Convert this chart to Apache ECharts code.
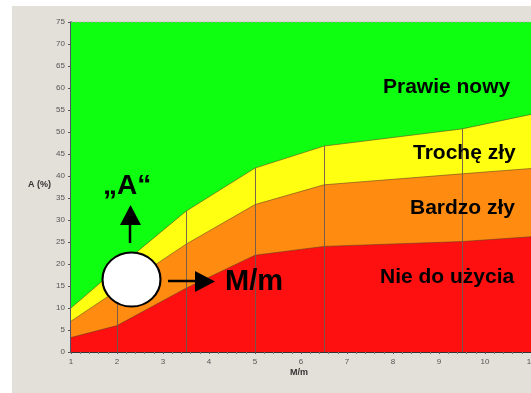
<!DOCTYPE html>
<html>
<head>
<meta charset="utf-8">
<script src="https://cdn.jsdelivr.net/npm/echarts@6/dist/echarts.min.js"></script>
<style>
html,body{margin:0;padding:0;background:#fff;}
#wrap{position:relative;width:531px;height:393px;}
#bg{position:absolute;left:12px;top:6px;right:0;bottom:0;background:#E3DFD9;}
#c{position:absolute;left:0;top:0;width:531px;height:393px;}
</style>
</head>
<body>
<div id="wrap"><div id="bg"></div><div id="c"></div></div>
<script>
// Breakpoints on the M/m axis
const xs = [1, 2, 3.5, 5, 6.5, 9.5, 11];
// Upper boundaries of each condition band, A (%)
const greenTop  = [75, 75, 75, 75, 75, 75, 75];
const yellowTop = [10, 19, 32, 41.8, 46.8, 50.7, 54];
const orangeTop = [7, 14, 24.5, 33.5, 38, 40.5, 41.7];
const redTop    = [3.3, 6, 14.5, 22, 24, 25.1, 26.2];
const bandNames = ['Prawie nowy', 'Trochę zły', 'Bardzo zły', 'Nie do użycia'];
const xTicks = [1,2,3,4,5,6,7,8,9,10,11];
const yTicks = [0,5,10,15,20,25,30,35,40,45,50,55,60,65,70,75];

const pair = arr => xs.map((x, i) => [x, arr[i]]);
const vLines = xs.slice(1, 6).map((x, i) => [
  { coord: [x, 0] },
  { coord: [x, yellowTop[i + 1]] }
]);

const boundary = { color: 'rgba(90,60,40,0.55)', width: 1 };
function band(name, arr, color, extra) {
  return Object.assign({
    type: 'line', name: name, data: pair(arr), symbol: 'none', silent: true,
    lineStyle: boundary, areaStyle: { color: color, opacity: 1, origin: 'start' },
    animation: false
  }, extra || {});
}

const Z = 100;
const chart = echarts.init(document.getElementById('c'));
chart.setOption({
  animation: false,
  grid: { left: 71, right: 0, top: 22, bottom: 41, outerBoundsMode: 'none', containLabel: false },
  xAxis: {
    type: 'value', min: 1, max: 11, interval: 1,
    axisLine: { lineStyle: { color: '#333', width: 1 } },
    axisTick: { length: 2, lineStyle: { color: '#555' } },
    minorTick: { show: true, splitNumber: 5, length: 2, lineStyle: { color: '#777' } },
    axisLabel: { fontSize: 8, color: '#555', margin: 6, fontFamily: 'Liberation Sans', hideOverlap: false,
      formatter: v => xTicks.includes(v) ? String(v) : '' },
    splitLine: { show: false }
  },
  yAxis: {
    type: 'value', min: 0, max: 75, interval: 5,
    axisLine: { show: true, lineStyle: { color: '#222244', width: 1.5 } },
    axisTick: { show: true, length: 3, lineStyle: { color: '#555' } },
    axisLabel: { fontSize: 8, color: '#555', margin: 6, fontFamily: 'Liberation Sans',
      formatter: v => yTicks.includes(v) ? String(v) : '' },
    splitLine: { show: false }
  },
  series: [
    band(bandNames[0], greenTop, '#0FFF10', { lineStyle: { color: '#999', width: 1, type: [2, 2] } }),
    band(bandNames[1], yellowTop, '#FFFF12', {
      markLine: { silent: true, symbol: 'none', label: { show: false },
        lineStyle: { color: '#6a5a50', width: 1, type: 'solid', opacity: 0.9 }, data: vLines }
    }),
    band(bandNames[2], orangeTop, '#FF8C10'),
    band(bandNames[3], redTop, '#FF1010')
  ],
  graphic: [
    { type: 'text', z: Z, left: 383, top: 77, style: { text: bandNames[0], font: 'bold 21px "Liberation Sans"', fill: '#000' } },
    { type: 'text', z: Z, left: 413, top: 143, style: { text: bandNames[1], font: 'bold 21px "Liberation Sans"', fill: '#000' } },
    { type: 'text', z: Z, left: 410, top: 198, style: { text: bandNames[2], font: 'bold 21px "Liberation Sans"', fill: '#000' } },
    { type: 'text', z: Z, left: 380, top: 267, style: { text: bandNames[3], font: 'bold 21px "Liberation Sans"', fill: '#000' } },
    { type: 'text', z: Z, left: 28, top: 180, style: { text: 'A (%)', font: 'bold 9px "Liberation Sans"', fill: '#333' } },
    { type: 'text', z: Z, left: 290, top: 368, style: { text: 'M/m', font: 'bold 9px "Liberation Sans"', fill: '#333' } },
    { type: 'text', z: Z, left: 103, top: 172, style: { text: '„A“', font: 'bold 28px "Liberation Sans"', fill: '#000' } },
    { type: 'text', z: Z, left: 225, top: 267, style: { text: 'M/m', font: 'bold 29px "Liberation Sans"', fill: '#000' } },
    { type: 'line', z: Z, shape: { x1: 130, y1: 243, x2: 130, y2: 224 }, style: { stroke: '#000', lineWidth: 2.5 } },
    { type: 'polygon', z: Z, shape: { points: [[120, 225], [141, 225], [130.5, 205]] }, style: { fill: '#000' } },
    { type: 'line', z: Z, shape: { x1: 168, y1: 281, x2: 196, y2: 281 }, style: { stroke: '#000', lineWidth: 2.5 } },
    { type: 'polygon', z: Z, shape: { points: [[195, 271], [195, 292], [215, 281.5]] }, style: { fill: '#000' } },
    { type: 'circle', z: Z, x: 131.5, y: 279.5, scaleX: 29 / 27, scaleY: 1, shape: { cx: 0, cy: 0, r: 27 },
      style: { fill: '#fff', stroke: '#000', lineWidth: 2, strokeNoScale: true } }
  ]
});
</script>
</body>
</html>
